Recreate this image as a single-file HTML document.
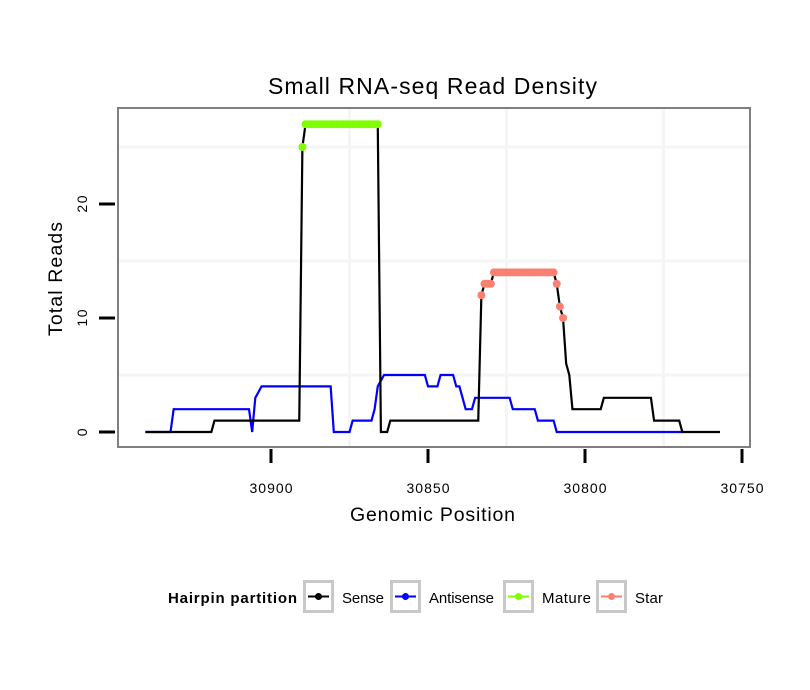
<!DOCTYPE html>
<html><head><meta charset="utf-8"><style>
body{margin:0;background:#fff;}
svg{display:block;font-family:"Liberation Sans",sans-serif;}
</style></head><body>
<svg id="chart" width="810" height="690" xmlns="http://www.w3.org/2000/svg">
<rect width="810" height="690" fill="#fff"/>
<text x="268" y="94" font-size="23" textLength="329" lengthAdjust="spacing">Small RNA-seq Read Density</text>
<g id="grid"></g>
<g id="series"></g>
<rect x="118" y="108" width="632" height="339" fill="none" stroke="#7f7f7f" stroke-width="2"/>
<g id="axes"></g>
<text x="350" y="521" font-size="19.5" textLength="165" lengthAdjust="spacing">Genomic Position</text>
<text x="62" y="336" font-size="19.5" textLength="114" lengthAdjust="spacing" transform="rotate(-90 62 336)">Total Reads</text>
<g id="legend">
<text x="168" y="603" font-size="15" font-weight="bold" textLength="129" lengthAdjust="spacing">Hairpin partition</text>
</g>
</svg>
<script>
const xTicks=[30900,30850,30800,30750];
const yTicks=[0,10,20];
const senseX=[30940,30919,30918,30891,30890,30889,30866,30865,30863,30862,30834,30833,30832,30830,30829,30810,30809,30808,30807,30806,30805,30804,30795,30794,30779,30778,30770,30769,30757];
const senseY=[0,0,1,1,25,27,27,0,0,1,1,12,13,13,14,14,13,11,10,6,5,2,2,3,3,1,1,0,0];
const antiX=[30940,30932,30931,30907,30906,30905,30903,30881,30880,30875,30874,30868,30867,30866,30864,30851,30850,30847,30846,30842,30841,30840,30838,30836,30835,30824,30823,30816,30815,30810,30809,30769];
const antiY=[0,0,2,2,0,3,4,4,0,0,1,1,2,4,5,5,4,4,5,5,4,4,2,2,3,3,2,2,1,1,0,0];
const matureX=[30890,30889,30888,30887,30886,30885,30884,30883,30882,30881,30880,30879,30878,30877,30876,30875,30874,30873,30872,30871,30870,30869,30868,30867,30866];
const matureY=[25,27,27,27,27,27,27,27,27,27,27,27,27,27,27,27,27,27,27,27,27,27,27,27,27];
const starX=[30833,30832,30831,30830,30829,30828,30827,30826,30825,30824,30823,30822,30821,30820,30819,30818,30817,30816,30815,30814,30813,30812,30811,30810,30809,30808,30807];
const starY=[12,13,13,13,14,14,14,14,14,14,14,14,14,14,14,14,14,14,14,14,14,14,14,14,13,11,10];
const legendLabels=["Sense","Antisense","Mature","Star"];
const legendColors=["#000","#0000ff","#7fff00","#fa8072"];

const NS="http://www.w3.org/2000/svg";
const X=v=>271+(30900-v)*3.14;
const Y=v=>432-v*11.4;
function mk(tag,attrs,parent){const e=document.createElementNS(NS,tag);for(const k in attrs)e.setAttribute(k,attrs[k]);parent.appendChild(e);return e;}
const grid=document.getElementById('grid'),series=document.getElementById('series'),axes=document.getElementById('axes'),legend=document.getElementById('legend');
[30875,30825,30775].forEach(v=>{const l=mk('line',{x1:X(v),x2:X(v),y1:109,y2:446,stroke:'#f5f5f5','stroke-width':3},grid);

});
[5,15,25].forEach(v=>{const l=mk('line',{x1:119,x2:749,y1:Y(v),y2:Y(v),stroke:'#f5f5f5','stroke-width':3},grid);

});
function line(xs,ys,color,name){const p=mk('polyline',{points:xs.map((x,i)=>X(x)+','+Y(ys[i])).join(' '),fill:'none',stroke:color,'stroke-width':2.2},series);

}
function pts(xs,ys,color,name){xs.forEach((x,i)=>{const c=mk('circle',{cx:X(x),cy:Y(ys[i]),r:4,fill:color},series);

});}
line(antiX,antiY,'#0000ff','antisense-line');
line(senseX,senseY,'#000','sense-line');
pts(matureX,matureY,'#7fff00','mature-point');
pts(starX,starY,'#fa8072','star-point');
xTicks.forEach(v=>{const t=mk('line',{x1:X(v),x2:X(v),y1:449,y2:463,stroke:'#000','stroke-width':3},axes);


const tx=mk('text',{x:X(v)-21.5,y:493,'font-size':14,textLength:43,lengthAdjust:'spacing'},axes);tx.textContent=v;

});
yTicks.forEach(v=>{const t=mk('line',{x1:99,x2:115,y1:Y(v),y2:Y(v),stroke:'#000','stroke-width':3},axes);


const s=String(v),w=s.length*8.6;
const tx=mk('text',{x:87,y:Y(v)+w/2,'font-size':14,textLength:w,lengthAdjust:'spacing',transform:`rotate(-90 87 ${Y(v)+w/2})`},axes);tx.textContent=s;

});
const boxX=[303,390,503,596];
const labW=[42,65,49,28];
legendLabels.forEach((lab,i)=>{const g=mk('g',{},legend);


mk('rect',{x:boxX[i]+1.5,y:581.5,width:28,height:30,fill:'#fff',stroke:'#c8c8c8','stroke-width':3},g);
mk('line',{x1:boxX[i]+5,x2:boxX[i]+26,y1:596.5,y2:596.5,stroke:legendColors[i],'stroke-width':2},g);
mk('circle',{cx:boxX[i]+15.5,cy:596.5,r:3.5,fill:legendColors[i]},g);
const t=mk('text',{x:boxX[i]+39,y:603,'font-size':15,textLength:labW[i],lengthAdjust:'spacing'},g);t.textContent=lab;});
</script>
</body></html>
